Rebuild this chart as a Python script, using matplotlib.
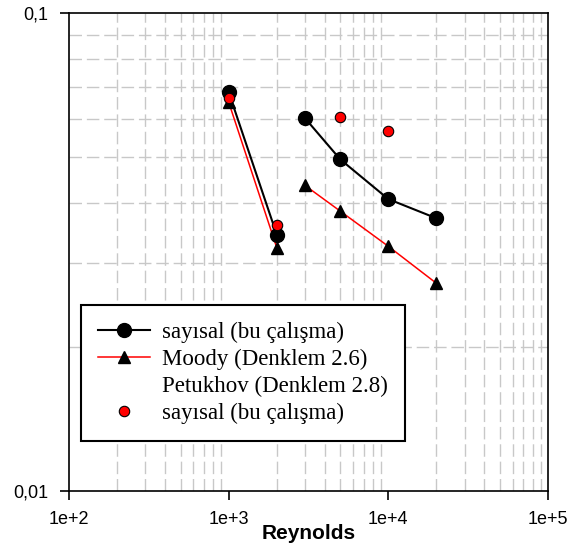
import numpy as np
import matplotlib
matplotlib.use("Agg")
import matplotlib.pyplot as plt
from matplotlib.ticker import FuncFormatter, LogLocator, NullFormatter

# Reynolds numbers and friction factors
re_sayisal = [1000, 2000, 3000, 5000, 10000, 20000]
f_sayisal = [0.0683, 0.0344, 0.0603, 0.0494, 0.0408, 0.0372]

re_moody = [1000, 2000, 3000, 5000, 10000, 20000]
f_moody = [0.0651, 0.0323, 0.0436, 0.0385, 0.0325, 0.0272]

re_sayisal2 = [1000, 2000, 5000, 10000]
f_sayisal2 = [0.0664, 0.0361, 0.0605, 0.0566]

labels = ["sayısal (bu çalışma)", "Moody (Denklem 2.6)",
          "Petukhov (Denklem 2.8)", "sayısal (bu çalışma)"]

fig = plt.figure(figsize=(5.73, 5.53), dpi=100)
ax = fig.add_axes([0.1204, 0.1121, 0.836, 0.8644])

ax.set_xscale("log")
ax.set_yscale("log")
ax.set_xlim(100, 100000)
ax.set_ylim(0.01, 0.1)

# laminar part and turbulent part of each series are separate polylines
ax.plot(re_moody[:2], f_moody[:2], color="red", lw=1.1, marker="^",
        ms=9, mfc="black", mec="black", zorder=3, label=labels[1])
ax.plot(re_moody[2:], f_moody[2:], color="red", lw=1.1, marker="^",
        ms=9, mfc="black", mec="black", zorder=3)
ax.plot(re_sayisal[:2], f_sayisal[:2], color="black", lw=1.5, marker="o",
        ms=10, mfc="black", zorder=4, label=labels[0])
ax.plot(re_sayisal[2:], f_sayisal[2:], color="black", lw=1.5, marker="o",
        ms=10, mfc="black", zorder=4)
ax.plot([], [], linestyle="none", label=labels[2])
ax.plot(re_sayisal2, f_sayisal2, linestyle="none", marker="o", ms=7.5,
        mfc="red", mec="black", mew=0.8, zorder=5, label=labels[3])

# minor gridlines only, dashed
ax.xaxis.set_minor_locator(LogLocator(base=10, subs=np.arange(2, 10)))
ax.yaxis.set_minor_locator(LogLocator(base=10, subs=np.arange(2, 10)))
ax.xaxis.set_minor_formatter(NullFormatter())
ax.yaxis.set_minor_formatter(NullFormatter())
ax.grid(True, which="minor", color="#c8c8c8", lw=1, linestyle=(0, (9, 3.5)))
ax.grid(False, which="major")

ax.xaxis.set_major_formatter(FuncFormatter(lambda v, p: "1e+%d" % round(np.log10(v))))
ax.yaxis.set_major_formatter(FuncFormatter(lambda v, p: ("%g" % v).replace(".", ",")))

ax.tick_params(which="minor", length=0)
ax.tick_params(which="major", direction="out", length=6.5, width=1.2,
               labelsize=13, colors="black")
ax.tick_params(axis="x", pad=8)
ax.tick_params(axis="y", pad=8.6)
for lab in ax.get_xticklabels() + ax.get_yticklabels():
    lab.set_family("Liberation Sans")

for s in ax.spines.values():
    s.set_linewidth(1.2)
    s.set_color("black")

ax.set_xlabel("Reynolds", fontsize=15, fontweight="bold", family="Liberation Sans")
ax.xaxis.set_label_coords(0.5, -0.069)

handles, labs = ax.get_legend_handles_labels()
order = [1, 0, 2, 3]
leg = ax.legend([handles[i] for i in order], [labs[i] for i in order],
                loc="lower left", bbox_to_anchor=(0.025, 0.105),
                borderaxespad=0, fancybox=False, framealpha=1,
                edgecolor="black", prop={"family": "Liberation Serif", "size": 16.5},
                handlelength=2.26, handletextpad=0.55, labelspacing=0.25,
                borderpad=0.74)
leg.get_frame().set_linewidth(1.5)

fig.savefig("out.png", dpi=100)
